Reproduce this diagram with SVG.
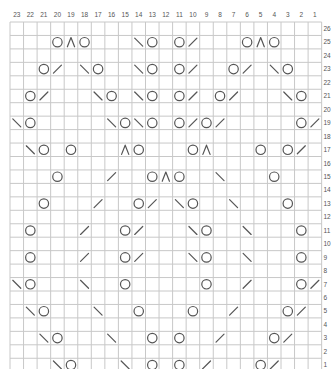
<svg xmlns="http://www.w3.org/2000/svg" xmlns:xlink="http://www.w3.org/1999/xlink" width="331" height="369" viewBox="0 0 331 369">
<style>
.grid{stroke:#c8c8c8;stroke-width:1;fill:none}
.sym{stroke:#555;stroke-width:1.2;fill:none;stroke-linecap:round;stroke-linejoin:round}
.lab{font-family:"Liberation Sans",Arial,sans-serif;font-size:6.5px;fill:#555}
.col{text-anchor:middle}
</style>
<defs>
<circle id="yo" class="sym" cx="0" cy="0" r="4.7"/>
<line id="k2" class="sym" x1="-4" y1="4" x2="4" y2="-4"/>
<line id="ss" class="sym" x1="-4" y1="-4" x2="4" y2="4"/>
<polyline id="cd" class="sym" points="-3.6,4.6 0,-4.6 3.6,4.6"/>
</defs>
<rect width="331" height="369" fill="#fff"/>
<g id="grid" class="grid">
<path d="M10,22V369M23.55,22V369M37.1,22V369M50.65,22V369M64.2,22V369M77.75,22V369M91.3,22V369M104.85,22V369M118.4,22V369M131.95,22V369M145.5,22V369M159.05,22V369M172.6,22V369M186.15,22V369M199.7,22V369M213.25,22V369M226.8,22V369M240.35,22V369M253.9,22V369M267.45,22V369M281,22V369M294.55,22V369M308.1,22V369M321.65,22V369"/>
<path d="M10,22H321.65M10,35.45H321.65M10,48.9H321.65M10,62.35H321.65M10,75.8H321.65M10,89.25H321.65M10,102.7H321.65M10,116.15H321.65M10,129.6H321.65M10,143.05H321.65M10,156.5H321.65M10,169.95H321.65M10,183.4H321.65M10,196.85H321.65M10,210.3H321.65M10,223.75H321.65M10,237.2H321.65M10,250.65H321.65M10,264.1H321.65M10,277.55H321.65M10,291H321.65M10,304.45H321.65M10,317.9H321.65M10,331.35H321.65M10,344.8H321.65M10,358.25H321.65"/>
</g>
<g id="col-labels" class="lab col">
<text x="16.78" y="17">23</text><text x="30.33" y="17">22</text><text x="43.88" y="17">21</text><text x="57.43" y="17">20</text><text x="70.98" y="17">19</text><text x="84.53" y="17">18</text><text x="98.08" y="17">17</text><text x="111.63" y="17">16</text><text x="125.18" y="17">15</text><text x="138.73" y="17">14</text><text x="152.28" y="17">13</text><text x="165.83" y="17">12</text><text x="179.38" y="17">11</text><text x="192.93" y="17">10</text><text x="206.48" y="17">9</text><text x="220.03" y="17">8</text><text x="233.58" y="17">7</text><text x="247.13" y="17">6</text><text x="260.68" y="17">5</text><text x="274.23" y="17">4</text><text x="287.78" y="17">3</text><text x="301.33" y="17">2</text><text x="314.88" y="17">1</text>
</g>
<g id="row-labels" class="lab">
<text x="323.5" y="31">26</text><text x="323.5" y="44.4">25</text><text x="323.5" y="57.9">24</text><text x="323.5" y="71.3">23</text><text x="323.5" y="84.8">22</text><text x="323.5" y="98.2">21</text><text x="323.5" y="111.7">20</text><text x="323.5" y="125.1">19</text><text x="323.5" y="138.6">18</text><text x="323.5" y="152">17</text><text x="323.5" y="165.5">16</text><text x="323.5" y="178.9">15</text><text x="323.5" y="192.4">14</text><text x="323.5" y="205.8">13</text><text x="323.5" y="219.3">12</text><text x="323.5" y="232.7">11</text><text x="323.5" y="246.2">10</text><text x="323.5" y="259.6">9</text><text x="323.5" y="273.1">8</text><text x="323.5" y="286.5">7</text><text x="323.5" y="300">6</text><text x="323.5" y="313.4">5</text><text x="323.5" y="326.9">4</text><text x="323.5" y="340.3">3</text><text x="323.5" y="353.8">2</text><text x="323.5" y="367.2">1</text>
</g>
<g id="row25">
<use href="#yo" x="57.43" y="42.18"/><use href="#cd" x="70.98" y="42.18"/><use href="#yo" x="84.53" y="42.18"/>
<use href="#ss" x="138.73" y="42.18"/><use href="#yo" x="152.28" y="42.18"/>
<use href="#yo" x="179.38" y="42.18"/><use href="#k2" x="192.93" y="42.18"/>
<use href="#yo" x="247.13" y="42.18"/><use href="#cd" x="260.68" y="42.18"/><use href="#yo" x="274.23" y="42.18"/>
</g>
<g id="row23">
<use href="#yo" x="43.88" y="69.08"/><use href="#k2" x="57.43" y="69.08"/>
<use href="#ss" x="84.53" y="69.08"/><use href="#yo" x="98.08" y="69.08"/>
<use href="#ss" x="138.73" y="69.08"/><use href="#yo" x="152.28" y="69.08"/>
<use href="#yo" x="179.38" y="69.08"/><use href="#k2" x="192.93" y="69.08"/>
<use href="#yo" x="233.58" y="69.08"/><use href="#k2" x="247.13" y="69.08"/>
<use href="#ss" x="274.23" y="69.08"/><use href="#yo" x="287.78" y="69.08"/>
</g>
<g id="row21">
<use href="#yo" x="30.33" y="95.98"/><use href="#k2" x="43.88" y="95.98"/>
<use href="#ss" x="98.08" y="95.98"/><use href="#yo" x="111.63" y="95.98"/>
<use href="#ss" x="138.73" y="95.98"/><use href="#yo" x="152.28" y="95.98"/>
<use href="#yo" x="179.38" y="95.98"/><use href="#k2" x="192.93" y="95.98"/>
<use href="#yo" x="220.03" y="95.98"/><use href="#k2" x="233.58" y="95.98"/>
<use href="#ss" x="287.78" y="95.98"/><use href="#yo" x="301.33" y="95.98"/>
</g>
<g id="row19">
<use href="#ss" x="16.78" y="122.88"/><use href="#yo" x="30.33" y="122.88"/>
<use href="#ss" x="111.63" y="122.88"/><use href="#yo" x="125.18" y="122.88"/><use href="#ss" x="138.73" y="122.88"/><use href="#yo" x="152.28" y="122.88"/>
<use href="#yo" x="179.38" y="122.88"/><use href="#k2" x="192.93" y="122.88"/><use href="#yo" x="206.48" y="122.88"/><use href="#k2" x="220.03" y="122.88"/>
<use href="#yo" x="301.33" y="122.88"/><use href="#k2" x="314.88" y="122.88"/>
</g>
<g id="row17">
<use href="#ss" x="30.33" y="149.78"/><use href="#yo" x="43.88" y="149.78"/>
<use href="#yo" x="70.98" y="149.78"/>
<use href="#cd" x="125.18" y="149.78"/><use href="#yo" x="138.73" y="149.78"/>
<use href="#yo" x="192.93" y="149.78"/><use href="#cd" x="206.48" y="149.78"/>
<use href="#yo" x="260.68" y="149.78"/>
<use href="#yo" x="287.78" y="149.78"/><use href="#k2" x="301.33" y="149.78"/>
</g>
<g id="row15">
<use href="#yo" x="57.43" y="176.68"/>
<use href="#k2" x="111.63" y="176.68"/>
<use href="#yo" x="152.28" y="176.68"/><use href="#cd" x="165.83" y="176.68"/><use href="#yo" x="179.38" y="176.68"/>
<use href="#ss" x="220.03" y="176.68"/>
<use href="#yo" x="274.23" y="176.68"/>
</g>
<g id="row13">
<use href="#yo" x="43.88" y="203.58"/>
<use href="#k2" x="98.08" y="203.58"/>
<use href="#yo" x="138.73" y="203.58"/><use href="#k2" x="152.28" y="203.58"/>
<use href="#ss" x="179.38" y="203.58"/><use href="#yo" x="192.93" y="203.58"/>
<use href="#ss" x="233.58" y="203.58"/>
<use href="#yo" x="287.78" y="203.58"/>
</g>
<g id="row11">
<use href="#yo" x="30.33" y="230.48"/>
<use href="#k2" x="84.53" y="230.48"/>
<use href="#yo" x="125.18" y="230.48"/><use href="#k2" x="138.73" y="230.48"/>
<use href="#ss" x="192.93" y="230.48"/><use href="#yo" x="206.48" y="230.48"/>
<use href="#ss" x="247.13" y="230.48"/>
<use href="#yo" x="301.33" y="230.48"/>
</g>
<g id="row9">
<use href="#yo" x="30.33" y="257.38"/>
<use href="#k2" x="84.53" y="257.38"/>
<use href="#yo" x="125.18" y="257.38"/><use href="#k2" x="138.73" y="257.38"/>
<use href="#ss" x="192.93" y="257.38"/><use href="#yo" x="206.48" y="257.38"/>
<use href="#ss" x="247.13" y="257.38"/>
<use href="#yo" x="301.33" y="257.38"/>
</g>
<g id="row7">
<use href="#ss" x="16.78" y="284.28"/><use href="#yo" x="30.33" y="284.28"/>
<use href="#ss" x="84.53" y="284.28"/>
<use href="#yo" x="125.18" y="284.28"/>
<use href="#yo" x="206.48" y="284.28"/>
<use href="#k2" x="247.13" y="284.28"/>
<use href="#yo" x="301.33" y="284.28"/><use href="#k2" x="314.88" y="284.28"/>
</g>
<g id="row5">
<use href="#ss" x="30.33" y="311.18"/><use href="#yo" x="43.88" y="311.18"/>
<use href="#ss" x="98.08" y="311.18"/>
<use href="#yo" x="138.73" y="311.18"/>
<use href="#yo" x="192.93" y="311.18"/>
<use href="#k2" x="233.58" y="311.18"/>
<use href="#yo" x="287.78" y="311.18"/><use href="#k2" x="301.33" y="311.18"/>
</g>
<g id="row3">
<use href="#ss" x="43.88" y="338.08"/><use href="#yo" x="57.43" y="338.08"/>
<use href="#ss" x="111.63" y="338.08"/>
<use href="#yo" x="152.28" y="338.08"/>
<use href="#yo" x="179.38" y="338.08"/>
<use href="#k2" x="220.03" y="338.08"/>
<use href="#yo" x="274.23" y="338.08"/><use href="#k2" x="287.78" y="338.08"/>
</g>
<g id="row1">
<use href="#ss" x="57.43" y="364.98"/><use href="#yo" x="70.98" y="364.98"/>
<use href="#ss" x="125.18" y="364.98"/>
<use href="#yo" x="152.28" y="364.98"/>
<use href="#yo" x="179.38" y="364.98"/>
<use href="#k2" x="206.48" y="364.98"/>
<use href="#yo" x="260.68" y="364.98"/><use href="#k2" x="274.23" y="364.98"/>
</g>
</svg>
